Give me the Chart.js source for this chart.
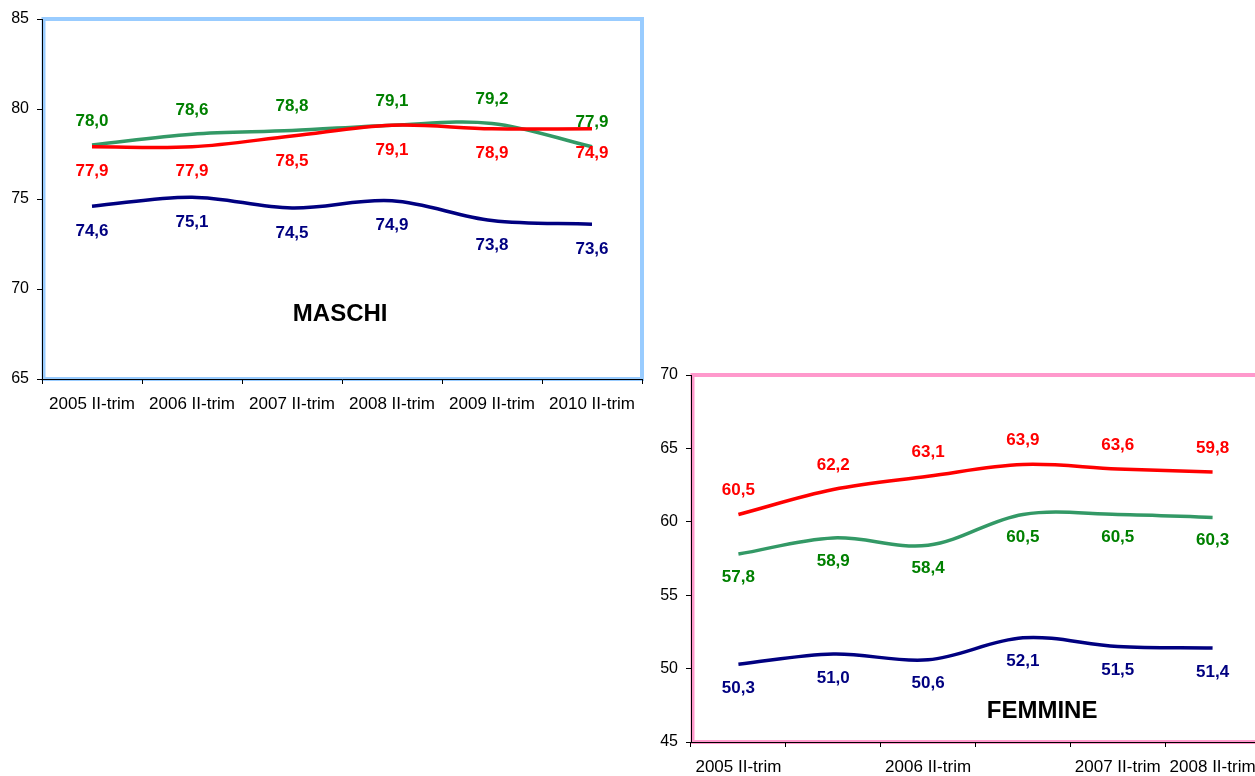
<!DOCTYPE html>
<html lang="it">
<head>
<meta charset="utf-8">
<title>Tasso di occupazione - maschi e femmine</title>
<script src="https://cdn.jsdelivr.net/npm/chart.js@4.4.1/dist/chart.umd.min.js"></script>
<style>
    html, body { margin: 0; padding: 0; background: #fff; overflow: hidden; width: 1255px; height: 776px; }
    canvas { position: absolute; }
    #graficoMaschi { left: 0; top: 0; }
    #graficoFemmine { left: 640px; top: 355px; }
</style>
</head>
<body>
<canvas id="graficoMaschi" width="660" height="420"></canvas>
<canvas id="graficoFemmine" width="630" height="430"></canvas>
<script>
// dati
const maschiCategorie = ['2005 II-trim', '2006 II-trim', '2007 II-trim', '2008 II-trim', '2009 II-trim', '2010 II-trim'];
const maschiBlu = [74.6, 75.1, 74.5, 74.9, 73.8, 73.6];
const maschiRosso = [77.9, 77.9, 78.5, 79.1, 78.9, 78.9];
const maschiRossoEtichette = ['77,9', '77,9', '78,5', '79,1', '78,9', '74,9'];
const maschiVerde = [78.0, 78.6, 78.8, 79.1, 79.2, 77.9];

const femmineCategorie = ['2005 II-trim', '', '2006 II-trim', '', '2007 II-trim', '2008 II-trim'];
const femmineBlu = [50.3, 51.0, 50.6, 52.1, 51.5, 51.4];
const femmineRosso = [60.5, 62.2, 63.1, 63.9, 63.6, 63.4];
const femmineRossoEtichette = ['60,5', '62,2', '63,1', '63,9', '63,6', '59,8'];
const femmineVerde = [57.8, 58.9, 58.4, 60.5, 60.5, 60.3];

const FONT = '"Liberation Sans", Arial, sans-serif';

// cornice colorata attorno all'area del grafico
const cornicePlugin = {
    id: 'cornice',
    beforeDraw(chart, args, opts) {
        const a = chart.chartArea;
        const ctx = chart.ctx;
        ctx.save();
        ctx.strokeStyle = opts.colore;
        ctx.lineWidth = opts.spessore;
        ctx.strokeRect(a.left + 1.5, a.top, a.right - a.left - 1.5, a.bottom - a.top);
        ctx.restore();
    }
};

// etichette dei valori sopra/sotto le linee
const etichettePlugin = {
    id: 'etichette',
    afterDatasetsDraw(chart) {
        const ctx = chart.ctx;
        ctx.save();
        ctx.font = 'bold 17px ' + FONT;
        ctx.textAlign = 'center';
        ctx.textBaseline = 'middle';
        chart.data.datasets.forEach((ds, i) => {
            const meta = chart.getDatasetMeta(i);
            meta.data.forEach((p, j) => {
                const testo = ds.etichette ? ds.etichette[j] : ds.data[j].toFixed(1).replace('.', ',');
                ctx.fillStyle = ds.coloreEtichetta;
                ctx.fillText(testo, p.x, p.y + ds.spostamento);
            });
        });
        ctx.restore();
    }
};

// titolo dentro l'area del grafico
const titoloPlugin = {
    id: 'titolo',
    afterDatasetsDraw(chart, args, opts) {
        const a = chart.chartArea;
        const ctx = chart.ctx;
        ctx.save();
        ctx.font = 'bold 24px ' + FONT;
        ctx.fillStyle = '#000';
        ctx.textAlign = 'center';
        ctx.textBaseline = 'middle';
        ctx.fillText(opts.testo, a.left + opts.posX * (a.right - a.left), chart.scales.y.getPixelForValue(opts.valoreY));
        ctx.restore();
    }
};

function serie(dati, colore, coloreEtichetta, spostamento, etichette) {
    return {
        data: dati,
        borderColor: colore,
        borderWidth: 3.5,
        tension: 0.35,
        pointRadius: 0,
        fill: false,
        coloreEtichetta: coloreEtichetta,
        spostamento: spostamento,
        etichette: etichette
    };
}

function creaGrafico(id, categorie, datasets, min, max, larghezzaY, altezzaX, padding, cornice, titolo) {
    const ctx = document.getElementById(id).getContext('2d');
    return new Chart(ctx, {
        type: 'line',
        data: { labels: categorie, datasets: datasets },
        options: {
            responsive: false,
            animation: false,
            events: [],
            layout: { padding: padding },
            plugins: {
                legend: { display: false },
                tooltip: { enabled: false },
                cornice: cornice,
                titolo: titolo
            },
            scales: {
                x: {
                    offset: true,
                    grid: { display: true, drawOnChartArea: false, offset: true, tickLength: 5, color: '#000' },
                    border: { color: '#000', width: 1 },
                    ticks: { color: '#000', font: { family: FONT, size: 17 }, padding: 10, autoSkip: false, maxRotation: 0 },
                    afterFit: function (scale) { scale.height = altezzaX; }
                },
                y: {
                    min: min,
                    max: max,
                    grid: { display: true, drawOnChartArea: false, tickLength: 5, color: '#000' },
                    border: { color: '#000', width: 1 },
                    ticks: { stepSize: 5, color: '#000', font: { family: FONT, size: 16 }, padding: 8 },
                    afterFit: function (scale) { scale.width = larghezzaY; }
                }
            }
        },
        plugins: [cornicePlugin, etichettePlugin, titoloPlugin]
    });
}

document.addEventListener('DOMContentLoaded', function () {
    creaGrafico('graficoMaschi', maschiCategorie, [
        serie(maschiBlu, '#000080', '#000080', 25),
        serie(maschiRosso, '#FF0000', '#FF0000', 25, maschiRossoEtichette),
        serie(maschiVerde, '#339966', '#008000', -24)
    ], 65, 85, 42, 41, { top: 19, right: 18, left: 0, bottom: 0 },
        { colore: '#99CCFF', spessore: 4 },
        { testo: 'MASCHI', posX: 0.497, valoreY: 68.6 });

    creaGrafico('graficoFemmine', femmineCategorie, [
        serie(femmineBlu, '#000080', '#000080', 24),
        serie(femmineRosso, '#FF0000', '#FF0000', -24, femmineRossoEtichette),
        serie(femmineVerde, '#339966', '#008000', 23)
    ], 45, 70, 51, 43, { top: 20, right: 10, left: 0, bottom: 0 },
        { colore: '#FF99CC', spessore: 4 },
        { testo: 'FEMMINE', posX: 0.617, valoreY: 47.1 });
});
</script>
</body>
</html>
